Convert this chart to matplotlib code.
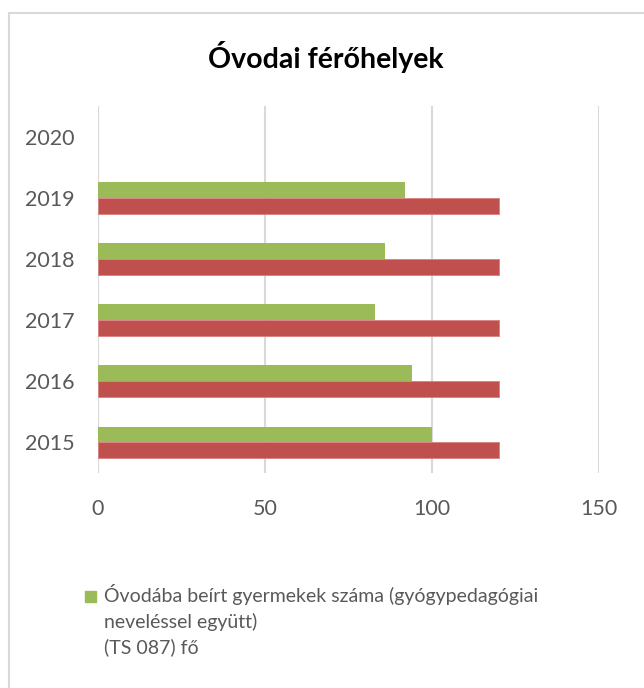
import matplotlib.pyplot as plt
import numpy as np
from matplotlib.lines import Line2D
from matplotlib.patches import Rectangle

plt.rcParams['font.family'] = ['Lato', 'DejaVu Sans']

years = ['2015', '2016', '2017', '2018', '2019', '2020']
enrolled = [100, 94, 83, 86, 92, np.nan]      # green series
capacity = [120, 120, 120, 120, 120, np.nan]  # red series
legend_label = ('Óvodába beírt gyermekek száma (gyógypedagógiai\n'
                'neveléssel együtt)\n(TS 087) fő')

W, H = 644, 688
fig = plt.figure(figsize=(W / 100, H / 100), dpi=100)

# chart border (left and top edges are visible in the picture)
fig.add_artist(Line2D([9 / W, 9 / W], [0, 1 - 13 / H], color='#d9d9d9', lw=1.5))
fig.add_artist(Line2D([9 / W, 1], [1 - 13 / H, 1 - 13 / H], color='#d9d9d9', lw=1.5))

ax = fig.add_axes([98 / W, 1 - 473 / H, (599 - 98) / W, (473 - 106) / H])

y = np.arange(len(years))
h = 0.26
green = '#9BBB59'
ax.barh(y + h / 2, enrolled, height=h, color=green)
ax.barh(y - h / 2, capacity, height=h, color='#C0504D', edgecolor='#d9807e', linewidth=0.6)

ax.set_xlim(0, 150)
ax.set_ylim(-0.5, len(years) - 0.5)
ax.set_xticks([0, 50, 100, 150])
ax.set_yticks(y)
ax.set_yticklabels(years)
ax.grid(axis='x', color='#d9d9d9', lw=1.5)
ax.set_axisbelow(True)
for s in ax.spines.values():
    s.set_visible(False)
ax.tick_params(length=0, labelsize=15.5, labelcolor='#595959')
ax.tick_params(axis='x', pad=19)
ax.tick_params(axis='y', pad=17)

fig.text(326 / W, 1 - 57 / H, 'Óvodai férőhelyek', ha='center', va='center',
         fontsize=20.5, fontweight='bold', color='black')

# legend: square marker + wrapped label
fig.add_artist(Rectangle((85 / W, 1 - 602 / H), 11 / W, 11 / H,
                         transform=fig.transFigure, color=green))
fig.text(104 / W, 1 - 584 / H, legend_label, ha='left', va='top',
         fontsize=14, color='#595959', linespacing=1.52)

fig.savefig('out.png', dpi=100)
